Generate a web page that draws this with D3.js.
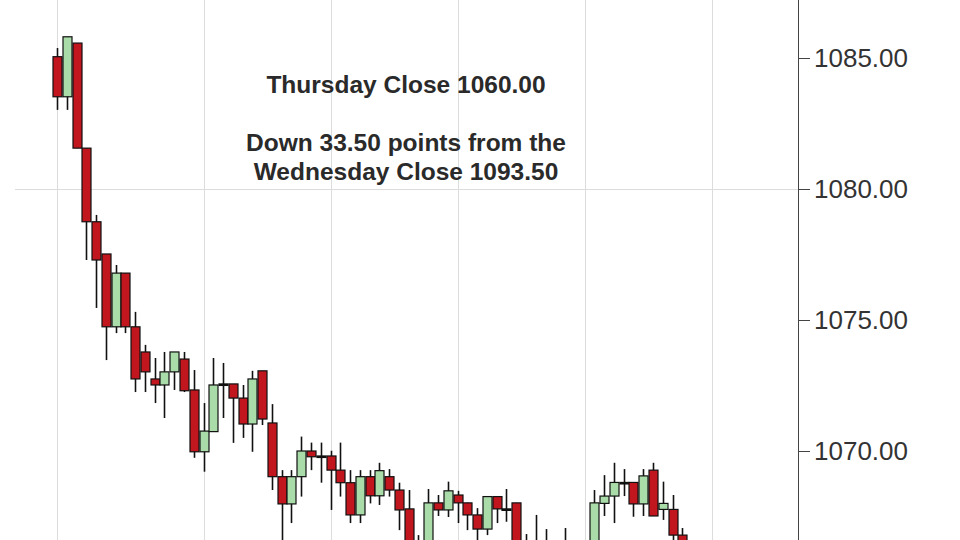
<!DOCTYPE html>
<html>
<head>
<meta charset="utf-8">
<script src="https://cdn.jsdelivr.net/npm/d3@7"></script>
<style>
  body { margin: 0; background: #fff; }
</style>
</head>
<body>
<div id="chart"></div>
<script>
// 5-minute bars (lower ones run off the bottom edge)
const opens  = [1085.05,1083.52,1085.57,1081.56,1078.75,1077.52,1074.74,1076.79,1074.74,1073.78,
                1072.75,1072.52,1073.02,1073.51,1072.33,1069.97,1070.74,1072.56,1072.56,1072.02,
                1071.03,1073.06,1071.07,1069.02,1067.98,1069.02,1070.00,1069.81,1069.81,1069.27,
                1068.79,1067.56,1069.02,1068.29,1069.02,1068.51,1067.79,1066.40,1066.30,1068.02,
                1067.75,1068.32,1068.02,1067.56,1067.02,1068.26,1067.79,1068.02,1066.50,1066.40,
                1066.30,1066.20,1065.80,1065.90,1066.10,1066.40,1068.00,1068.28,1068.80,1068.80,
                1067.98,1069.27,1067.77,1067.77,1066.79];
const highs  = [1085.38,1085.81,1085.57,1081.56,1079.01,1077.52,1077.10,1076.79,1075.31,1074.05,
                1073.55,1073.78,1073.78,1073.78,1073.09,1071.83,1073.55,1073.36,1072.56,1072.52,
                1073.06,1073.06,1071.79,1069.27,1069.27,1070.55,1070.32,1070.32,1070.01,1070.32,
                1069.27,1069.27,1069.27,1069.55,1069.31,1068.79,1068.51,1066.79,1068.55,1068.32,
                1068.83,1068.48,1068.03,1067.82,1068.26,1068.26,1068.55,1068.02,1066.83,1067.56,
                1067.02,1066.50,1067.06,1066.50,1066.55,1068.51,1069.08,1069.55,1069.31,1068.80,
                1069.31,1069.55,1068.83,1068.32,1067.06];
const lows   = [1083.02,1083.02,1081.56,1077.29,1075.46,1073.47,1074.50,1074.50,1072.25,1072.25,
                1071.83,1071.26,1072.33,1072.25,1069.74,1069.21,1070.74,1071.26,1070.31,1070.50,
                1069.97,1070.99,1068.51,1066.60,1067.25,1068.26,1069.27,1068.79,1067.75,1068.26,
                1067.25,1067.25,1068.00,1067.94,1068.26,1066.98,1066.00,1065.80,1066.00,1067.52,
                1067.48,1067.25,1066.98,1066.60,1066.79,1067.25,1067.30,1066.00,1065.90,1065.70,
                1065.60,1065.50,1065.50,1065.60,1065.70,1066.00,1067.52,1067.25,1068.28,1067.49,
                1067.52,1067.52,1067.37,1066.60,1065.90];
const closes = [1083.52,1085.81,1081.56,1078.75,1077.29,1074.74,1076.79,1074.74,1072.75,1073.02,
                1072.52,1073.02,1073.78,1072.30,1069.97,1070.76,1072.52,1072.56,1072.02,1071.03,
                1072.75,1071.22,1069.02,1067.98,1069.02,1070.00,1069.78,1069.81,1069.27,1068.79,
                1067.56,1069.02,1068.29,1069.25,1068.51,1067.75,1066.30,1066.10,1068.02,1067.75,
                1068.48,1068.02,1067.56,1067.02,1068.26,1067.79,1067.79,1066.30,1066.20,1066.00,
                1065.90,1066.00,1066.30,1066.40,1066.40,1068.02,1068.28,1068.80,1068.80,1067.98,
                1069.05,1067.52,1068.00,1066.79,1066.20];

const priceTicks = [1085, 1080, 1075, 1070];
const hGrid = [1080];
const vGridBars = [0, 15, 28, 41, 54, 67];
const noteLines = ["Thursday Close 1060.00", "Down 33.50 points from the", "Wednesday Close 1093.50"];
const noteY = [93, 151, 180];

const bars = opens.map((o, i) => ({i, o, h: highs[i], l: lows[i], c: closes[i]}));

const width = 960, height = 540;
const axisX = 798;

const svg = d3.select("#chart").append("svg")
    .attr("width", width).attr("height", height)
    .style("display", "block");

const xScale = d3.scaleLinear().domain([0, 67]).range([57, 57 + 67 * 9.77]);
const yScale = d3.scaleLinear().domain([1070, 1085]).range([451, 58]);

// grid
svg.append("g").selectAll("line").data(vGridBars).join("line")
    .attr("x1", d => Math.round(xScale(d)) + 0.5).attr("x2", d => Math.round(xScale(d)) + 0.5)
    .attr("y1", 0).attr("y2", height)
    .attr("stroke", "#dcdcdc").attr("stroke-width", 1);

svg.append("g").selectAll("line").data(hGrid).join("line")
    .attr("x1", 15).attr("x2", axisX)
    .attr("y1", d => Math.round(yScale(d)) + 0.5).attr("y2", d => Math.round(yScale(d)) + 0.5)
    .attr("stroke", "#dcdcdc").attr("stroke-width", 1);

// right axis
const yAxis = d3.axisRight(yScale).tickValues(priceTicks)
    .tickFormat(d3.format(".2f")).tickSize(12).tickPadding(4);

const axisG = svg.append("g")
    .attr("transform", `translate(${axisX},0)`)
    .call(yAxis);
axisG.select(".domain").attr("d", `M0.5,0V${height}`).attr("stroke", "#444");
axisG.selectAll(".tick line").attr("stroke", "#444").attr("x1", 0);
axisG.selectAll(".tick text")
    .attr("font-family", "Liberation Sans, Arial, sans-serif")
    .attr("font-size", 26).attr("fill", "#333");

// candles
const candleW = 9;
const cg = svg.append("g");
cg.selectAll("line").data(bars).join("line")
    .attr("x1", d => Math.round(xScale(d.i)) + 0.5).attr("x2", d => Math.round(xScale(d.i)) + 0.5)
    .attr("y1", d => yScale(d.h)).attr("y2", d => yScale(d.l))
    .attr("stroke", "#111").attr("stroke-width", 1.6);

cg.selectAll("rect").data(bars).join("rect")
    .attr("x", d => Math.round(xScale(d.i)) - candleW / 2 + 0.5)
    .attr("y", d => yScale(Math.max(d.o, d.c)))
    .attr("width", candleW)
    .attr("height", d => Math.max(1.5, Math.abs(yScale(d.o) - yScale(d.c))))
    .attr("fill", d => d.c > d.o ? "#a9dca8" : (d.c < d.o ? "#c1161d" : "#111"))
    .attr("stroke", "#111").attr("stroke-width", 1.2);

// annotation
svg.append("g").selectAll("text").data(noteLines).join("text")
    .attr("x", 406).attr("y", (d, i) => noteY[i])
    .attr("text-anchor", "middle")
    .attr("font-family", "Liberation Sans, Arial, sans-serif")
    .attr("font-size", 24.5).attr("font-weight", "bold").attr("fill", "#2a2a2a")
    .text(d => d);
</script>
</body>
</html>
